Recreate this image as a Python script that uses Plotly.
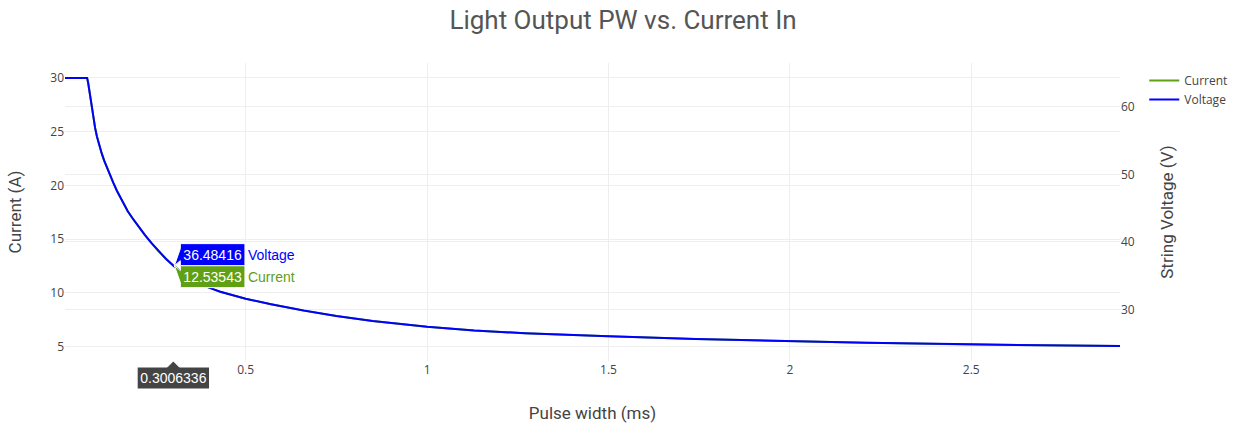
import plotly.graph_objects as go

# Pulse width (ms) vs. drive current (A) and string voltage (V)
pulse_width_ms = [0.002, 0.063, 0.066, 0.070, 0.075, 0.080, 0.085, 0.090, 0.096, 0.103,
                  0.110, 0.118, 0.126, 0.135, 0.145, 0.160, 0.175, 0.190, 0.205, 0.222,
                  0.240, 0.259, 0.280, 0.3006336, 0.325, 0.350, 0.390, 0.430, 0.470, 0.500,
                  0.570, 0.660, 0.750, 0.850, 1.000, 1.130, 1.270, 1.400, 1.480, 1.740,
                  2.000, 2.210, 2.500, 2.910]
current_a = [30.0, 30.0, 29.5, 28.55, 27.4, 26.3, 25.35, 24.55, 23.75, 23.0,
             22.3, 21.6, 20.95, 20.25, 19.5, 18.5, 17.6, 16.85, 16.15, 15.4,
             14.65, 13.9, 13.18, 12.53543, 11.86, 11.3, 10.6, 10.1, 9.7, 9.45,
             8.95, 8.35, 7.85, 7.38, 6.85, 6.5, 6.25, 6.07, 5.98, 5.72,
             5.50, 5.36, 5.21, 5.05]
voltage_v = [64.30, 64.30, 63.50, 61.99, 60.16, 58.41, 56.89, 55.62, 54.35, 53.15,
             52.04, 50.92, 49.89, 48.77, 47.58, 45.98, 44.55, 43.36, 42.24, 41.05,
             39.85, 38.66, 37.51, 36.48416, 35.41, 34.52, 33.40, 32.61, 31.97, 31.57,
             30.77, 29.82, 29.02, 28.27, 27.43, 26.87, 26.47, 26.19, 26.04, 25.63,
             25.28, 25.06, 24.82, 24.56]

# Pulse width whose values are shown in the hover readout
readout_x = 0.3006336

GREEN = "rgb(96,160,20)"
BLUE = "rgb(0,0,255)"
TEXT = "#444"

fig = go.Figure()
fig.add_trace(go.Scatter(x=pulse_width_ms, y=current_a, name="Current", mode="lines",
                         line=dict(color=GREEN, width=2), yaxis="y"))
fig.add_trace(go.Scatter(x=pulse_width_ms, y=voltage_v, name="Voltage", mode="lines",
                         line=dict(color=BLUE, width=2), yaxis="y2"))

axis_title_font = dict(family="Roboto", size=17, color=TEXT)
tick_font = dict(family="Open Sans", size=12, color=TEXT)

fig.update_layout(
    template="none",
    width=1246, height=423,
    margin=dict(l=65, r=126, t=63, b=62),
    paper_bgcolor="white", plot_bgcolor="white",
    font=dict(family="Open Sans", size=12, color=TEXT),
    title=dict(text="Light Output PW vs. Current In", x=0.5, xanchor="center",
               y=1 - 20 / 423, yanchor="middle", yref="container",
               font=dict(family="Roboto", size=26, color="#555")),
    hovermode="x",
    hoverlabel=dict(font=dict(family="Arial", size=14)),
    xaxis=dict(title=dict(text="Pulse width (ms)", font=axis_title_font),
               showgrid=True, gridcolor="#eee", zeroline=False, showline=False,
               ticks="", tickfont=tick_font),
    yaxis=dict(title=dict(text="Current (A)", font=axis_title_font),
               showgrid=True, gridcolor="#eee", zeroline=False, showline=False,
               ticks="", tickfont=tick_font),
    yaxis2=dict(title=dict(text="String Voltage (V)", font=axis_title_font),
                overlaying="y", side="right",
                showgrid=True, gridcolor="#eee", zeroline=False, showline=False,
                ticks="", tickfont=tick_font),
    legend=dict(x=1.023, y=0.99, xanchor="left", yanchor="top",
                font=dict(family="Open Sans", size=12, color=TEXT)),
)

post = """
var gd = document.getElementById('{plot_id}');
function showReadout() {
    Plotly.Fx.hover(gd, {xval: %s}, ['xy', 'xy2']);
}
showReadout();
setTimeout(showReadout, 300);
""" % readout_x

fig.write_html("out.html", post_script=post)
